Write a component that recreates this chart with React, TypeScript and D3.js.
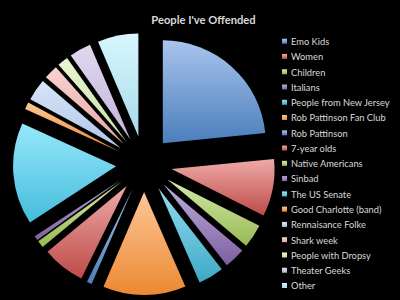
import React from 'react';
import * as d3 from 'd3';

const categories = [
  'Emo Kids', 'Women', 'Children', 'Italians', 'People from New Jersey',
  'Rob Pattinson Fan Club', 'Rob Pattinson', '7-year olds', 'Native Americans', 'Sinbad',
  'The US Senate', 'Good Charlotte (band)', 'Rennaisance Folke', 'Shark week',
  'People with Dropsy', 'Theater Geeks', 'Other',
];
const values = [23.4, 9, 3.7, 3.3, 4, 13, 0.8, 6.7, 1.1, 0.7, 16, 1.1, 3.4, 2.2, 1.7, 3.4, 6.4];
const topColors = [
  '#a9c4ee', '#eeaaa8', '#d4e9a8', '#bdaddd', '#93dcef', '#fdc797',
  '#a9c4ee', '#eeaaa8', '#d4e9a8', '#bdaddd', '#96e8fb', '#fdc797',
  '#d8e5f8', '#f8d3d2', '#eaf6d2', '#e0d8ee', '#d8f6fd',
];
const bottomColors = [
  '#4a7ebb', '#be4b48', '#98b954', '#7d60a0', '#3ea9c6', '#ec8833',
  '#4a7ebb', '#be4b48', '#98b954', '#7d60a0', '#44bcdc', '#ec8833',
  '#b0c5e7', '#e8a6a4', '#cbdfa6', '#c2b4d8', '#a6dbea',
];
const title = "People I've Offended";

const W = 400;
const H = 300;
const cx = 144;
const cy = 164;
const radius = 103;
const explode = 28;

export default function App() {
  const data = categories.map((c, i) => ({ name: c, value: values[i], i }));
  const pie = d3.pie<any>().sort(null).value((d: any) => d.value);
  const arcs = pie(data);
  const arc = d3.arc<any>().innerRadius(0).outerRadius(radius);
  const legendY = d3.scaleLinear().domain([0, categories.length - 1]).range([41.7, 286]);

  return (
    <svg width={W} height={H} style={{ position: 'absolute', left: 0, top: 0, background: '#000' }}>
      <defs>
        {categories.map((c, i) => (
          <linearGradient key={i} id={`g${i}`} x1="0" y1="0" x2="0" y2="1">
            <stop offset="0%" stopColor={topColors[i]} />
            <stop offset="100%" stopColor={bottomColors[i]} />
          </linearGradient>
        ))}
      </defs>
      <rect x={0} y={0} width={W} height={H} fill="#000" />
      <text x={203.5} y={24} textAnchor="middle" fontFamily="Lato, 'Open Sans', sans-serif" fontWeight="bold" fontSize={11.2} fill="#d9d9d9">
        {title}
      </text>
      <g transform={`translate(${cx},${cy})`}>
        {arcs.map((a, i) => {
          const mid = (a.startAngle + a.endAngle) / 2;
          const dx = explode * Math.sin(mid);
          const dy = -explode * Math.cos(mid);
          return (
            <path key={i} d={arc(a) as string} transform={`translate(${dx},${dy})`} fill={`url(#g${i})`} />
          );
        })}
      </g>
      <g>
        {categories.map((c, i) => (
          <g key={i} transform={`translate(282,${legendY(i)})`}>
            <rect x={0} y={-3} width={5} height={5} fill={`url(#g${i})`} />
            <text x={9} y={3.3} fontFamily="Lato, 'Open Sans', sans-serif" fontSize={9.3} fill="#d9d9d9">
              {c}
            </text>
          </g>
        ))}
      </g>
    </svg>
  );
}
